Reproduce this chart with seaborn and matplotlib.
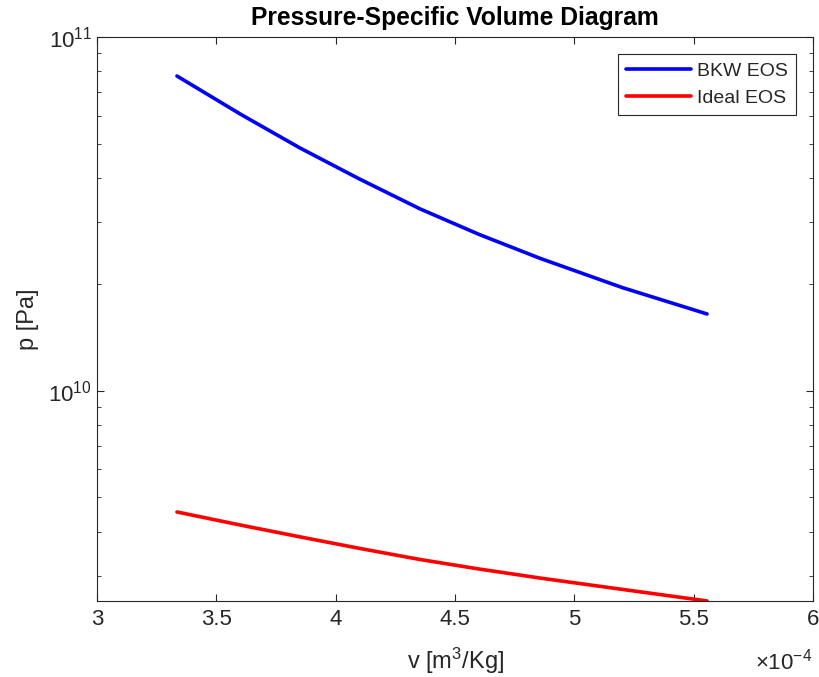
import numpy as np
import pandas as pd
import matplotlib
matplotlib.use("Agg")
import matplotlib.pyplot as plt
import matplotlib.ticker as mticker
import seaborn as sns

# Data
v_values = [3.335e-4, 3.60e-4, 3.85e-4, 4.10e-4, 4.353e-4, 4.60e-4, 4.856e-4, 5.20e-4, 5.556e-4]
p_bkw = [7.76e10, 6.06e10, 4.86e10, 3.97e10, 3.27e10, 2.77e10, 2.37e10, 1.96e10, 1.65e10]
p_ideal = [4.55e9, 4.18e9, 3.87e9, 3.59e9, 3.34e9, 3.14e9, 2.96e9, 2.75e9, 2.55e9]
series_names = ["BKW EOS", "Ideal EOS"]
x_ticks = [3e-4, 3.5e-4, 4e-4, 4.5e-4, 5e-4, 5.5e-4, 6e-4]

df = pd.DataFrame({
    "v": v_values + v_values,
    "p": p_bkw + p_ideal,
    "EOS": [series_names[0]] * len(v_values) + [series_names[1]] * len(v_values),
})

sns.set_style("ticks")
plt.rcParams["font.family"] = ["Liberation Sans", "DejaVu Sans"]
plt.rcParams["mathtext.fontset"] = "custom"
plt.rcParams["mathtext.rm"] = "Liberation Sans"
plt.rcParams["mathtext.it"] = "Liberation Sans"

fig = plt.figure(figsize=(8.2, 6.77), dpi=100)
ax = fig.add_axes([0.1183, 0.1123, 0.8732, 0.833])

sns.lineplot(data=df, x="v", y="p", hue="EOS", palette=["#0000ff", "#ff0000"],
             linewidth=2.6, ax=ax, sort=False)

ax.set_yscale("log")
ax.set_xlim(3e-4, 6e-4)
ax.set_ylim(2.55e9, 1e11)
ax.set_xticks(x_ticks)
ax.xaxis.set_major_formatter(mticker.FuncFormatter(lambda x, pos: f"{x*1e4:g}"))
ax.yaxis.set_major_locator(mticker.LogLocator(base=10))
ax.yaxis.set_major_formatter(mticker.LogFormatterSciNotation())
ax.yaxis.set_minor_locator(mticker.LogLocator(base=10, subs=np.arange(2, 10)))
ax.yaxis.set_minor_formatter(mticker.NullFormatter())

axis_col = "#262626"
for s in ax.spines.values():
    s.set_color(axis_col)
    s.set_linewidth(0.8)
ax.tick_params(which="both", direction="in", top=True, right=True, colors=axis_col,
               labelcolor=axis_col, labelsize=16)
ax.tick_params(which="major", length=5)
ax.tick_params(which="minor", length=3)
ax.tick_params(axis="x", pad=6)

ax.set_xlabel("v [m$^3$/Kg]", fontsize=17, color=axis_col, labelpad=11)
ax.set_ylabel("p [Pa]", fontsize=17, color=axis_col, labelpad=7)
ax.set_title("Pressure-Specific Volume Diagram", fontsize=17.7, fontweight="bold", color="black", pad=9)

ax.text(0.999, -0.084, r"$\times10^{-4}$", transform=ax.transAxes, ha="right", va="top",
        fontsize=16, color=axis_col)

leg = ax.legend(loc="upper right", fontsize=14, frameon=True, fancybox=False,
                framealpha=1, edgecolor="#262626", handlelength=3.35,
                borderaxespad=0.88, labelspacing=0.5, handletextpad=0.3, borderpad=0.42)
leg.get_frame().set_linewidth(0.8)
leg.set_title(None)

fig.savefig("out.png", dpi=100, facecolor="white")
